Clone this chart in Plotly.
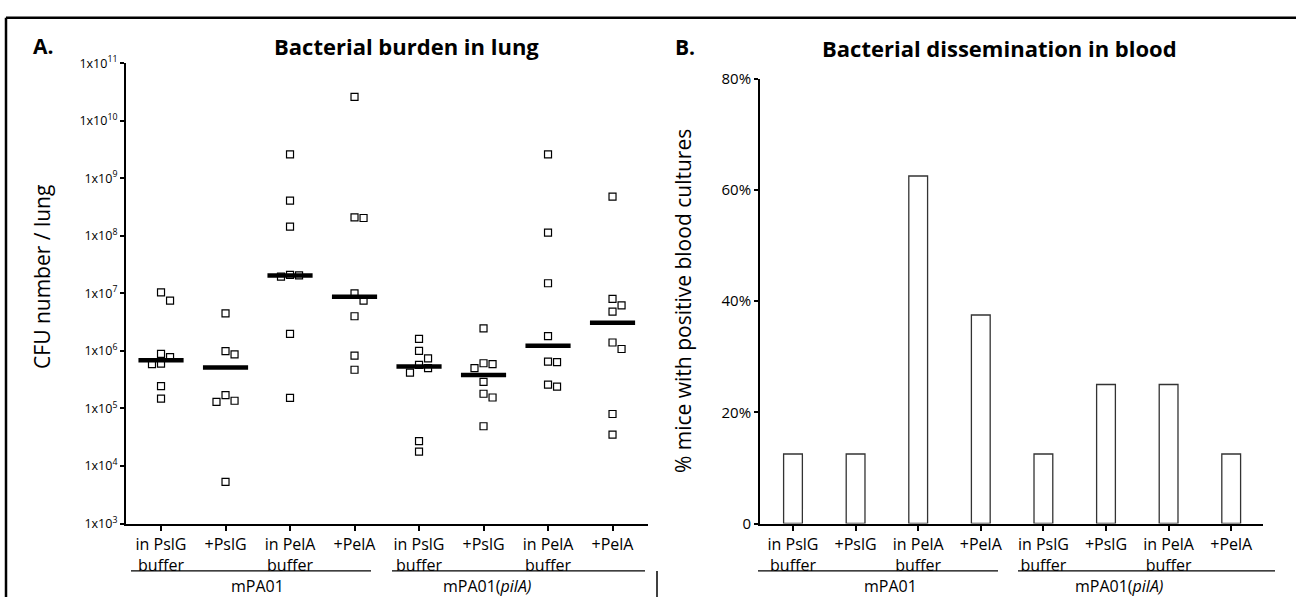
import numpy as np
import plotly.graph_objects as go

# ---------------- data ----------------
categories = ["in PslG<br>buffer", "+PslG", "in PelA<br>buffer", "+PelA",
              "in PslG<br>buffer", "+PslG", "in PelA<br>buffer", "+PelA"]
strains = ["mPA01", "mPA01(<i>pilA)</i>"]

lung_cfu = [
    [1.04e7, 7.5e6, 8.9e5, 7.8e5, 6.0e5, 5.9e5, 2.45e5, 1.48e5],
    [4.5e6, 9.9e5, 8.7e5, 1.7e5, 1.36e5, 1.3e5, 5.3e3],
    [2.6e9, 4.1e8, 1.44e8, 2.05e7, 1.95e7, 2.1e7, 1.97e6, 1.53e5],
    [2.6e10, 2.1e8, 2.04e8, 1.0e7, 7.5e6, 4.0e6, 8.3e5, 4.7e5],
    [1.62e6, 1.0e6, 7.4e5, 5.7e5, 5.0e5, 4.2e5, 2.7e4, 1.77e4],
    [2.46e6, 6.1e5, 5.9e5, 5.0e5, 2.9e5, 1.8e5, 1.55e5, 4.9e4],
    [2.6e9, 1.14e8, 1.5e7, 1.8e6, 6.5e5, 6.4e5, 2.6e5, 2.4e5],
    [4.8e8, 8.0e6, 6.2e6, 4.8e6, 1.4e6, 1.08e6, 8.0e4, 3.5e4],
]
lung_median = [6.85e5, 5.15e5, 2.05e7, 8.7e6, 5.36e5, 3.8e5, 1.23e6, 3.1e6]

blood_positive_pct = [12.5, 12.5, 62.5, 37.5, 12.5, 25, 25, 12.5]

y_left_exponents = [3, 4, 5, 6, 7, 8, 9, 10, 11]
y_right_ticks = [0, 20, 40, 60, 80]
y_right_labels = ["0", "20%", "40%", "60%", "80%"]

# ---------------- helpers ----------------
W, H = 1296, 606
FONT = "Open Sans"


def px(x):
    return x / W


def py(y):
    return 1 - y / H


def dodge(vals, step=0.14, min_gap=0.15):
    logs = np.log10(vals)
    order = np.argsort(-logs)
    placed = []
    offs = np.zeros(len(vals))
    for i in order:
        for cand in [0, step, -step, 2 * step, -2 * step]:
            ok = all(not (abs(cand - o) < step * 0.99 and abs(logs[i] - l) < min_gap)
                     for o, l in placed)
            if ok:
                offs[i] = cand
                placed.append((cand, logs[i]))
                break
    return offs


fig = go.Figure()

# ---------------- panel A: scatter ----------------
for i, vals in enumerate(lung_cfu):
    offs = dodge(vals)
    fig.add_trace(go.Scatter(
        x=i + offs, y=vals, mode="markers",
        marker=dict(symbol="square-open", size=7, color="black",
                    line=dict(width=1.2, color="black")),
        xaxis="x", yaxis="y", showlegend=False, hoverinfo="y"))
    fig.add_trace(go.Scatter(
        x=[i - 0.35, i + 0.35], y=[lung_median[i]] * 2, mode="lines",
        line=dict(color="black", width=4.5),
        xaxis="x", yaxis="y", showlegend=False, hoverinfo="skip"))

# ---------------- panel B: bars ----------------
fig.add_trace(go.Bar(
    x=list(range(len(blood_positive_pct))), y=blood_positive_pct, width=0.3,
    marker=dict(color="white", line=dict(color="#333333", width=1.3)),
    xaxis="x2", yaxis="y2", showlegend=False))

common_x = dict(
    tickmode="array", tickvals=list(range(8)), ticktext=categories,
    ticks="outside", ticklen=5, tickwidth=2, tickcolor="black",
    showline=True, linecolor="black", linewidth=2,
    showgrid=False, zeroline=False,
    tickfont=dict(family=FONT, size=16, color="black"),
)

fig.update_layout(
    width=W, height=H, autosize=False,
    margin=dict(l=0, r=0, t=0, b=0),
    paper_bgcolor="white", plot_bgcolor="white",
    font=dict(family=FONT, color="black"),
    xaxis=dict(domain=[px(126), px(648)], range=[-0.543, 7.55], anchor="y",
               **common_x),
    yaxis=dict(domain=[py(530), py(54)], type="log", range=[3, 11],
               anchor="x", tickmode="array",
               tickvals=[10 ** e for e in y_left_exponents],
               ticktext=["1x10<sup>%d</sup>" % e for e in y_left_exponents],
               ticks="outside", ticklen=4, tickwidth=2, tickcolor="black",
               showline=True, linecolor="black", linewidth=2.2,
               showgrid=False, zeroline=False,
               tickfont=dict(family=FONT, size=12.5, color="black")),
    xaxis2=dict(domain=[px(760), px(1263)], range=[-0.527, 7.508], anchor="y2",
                **common_x),
    yaxis2=dict(domain=[py(530), py(70)], range=[0, 80], anchor="x2",
                tickmode="array", tickvals=y_right_ticks, ticktext=y_right_labels,
                ticks="outside", ticklen=4, tickwidth=1.5, tickcolor="black",
                showline=True, linecolor="black", linewidth=1.8,
                showgrid=False, zeroline=False,
                tickfont=dict(family=FONT, size=15, color="black")),
)


def note(text, x, y, size, xref="paper", angle=0):
    return dict(text=text, x=x, y=y, xref=xref, yref="paper", showarrow=False,
                xanchor="center", yanchor="middle", textangle=angle,
                font=dict(family=FONT, size=size, color="black"))


ann = [
    note("<b>A.</b>", px(43), py(36), 21),
    note("<b>Bacterial burden in lung</b>", px(406), py(36), 22),
    note("<b>B.</b>", px(685), py(37), 21),
    note("<b>Bacterial dissemination in blood</b>", px(999), py(38), 22),
    note("CFU number / lung", px(42), py(275), 21, angle=-90),
    note("% mice with positive blood cultures", px(683), py(300), 21, angle=-90),
    note(strains[0], 1.5, py(595), 16, xref="x"),
    note(strains[1], 5.05, py(595), 16, xref="x"),
    note(strains[0], 1.55, py(595), 16, xref="x2"),
    note(strains[1], 5.2, py(595), 16, xref="x2"),
]
fig.update_layout(annotations=ann)

shapes = []
# figure frame
shapes.append(dict(type="line", xref="paper", yref="paper", x0=px(6), x1=1,
                   y0=py(7), y1=py(7), line=dict(color="black", width=2.5)))
shapes.append(dict(type="line", xref="paper", yref="paper", x0=px(6), x1=px(6),
                   y0=py(7), y1=0, line=dict(color="black", width=2.5)))
shapes.append(dict(type="line", xref="paper", yref="paper", x0=px(657), x1=px(657),
                   y0=py(579), y1=0, line=dict(color="black", width=1.5)))
# group underlines
for a, b in [(131, 371), (392, 645), (758, 998), (1018, 1275)]:
    shapes.append(dict(type="line", xref="paper", yref="paper", x0=px(a), x1=px(b),
                       y0=py(579), y1=py(579), line=dict(color="black", width=1.2)))
fig.update_layout(shapes=shapes)

fig.write_html("out.html",
               config={"displayModeBar": False},
               post_script="document.body.style.margin='0';"
                           "document.body.style.overflow='hidden';")
